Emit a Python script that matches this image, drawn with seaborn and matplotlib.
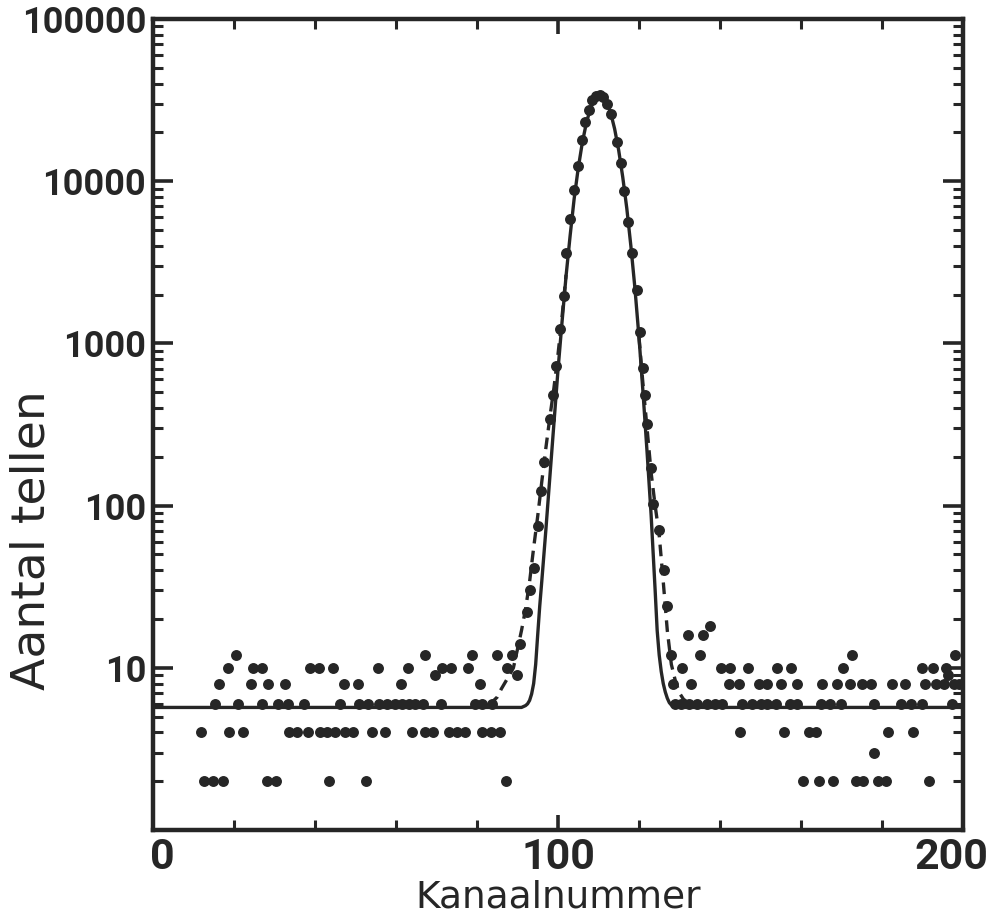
import matplotlib
matplotlib.use("Agg")
import matplotlib.pyplot as plt
import matplotlib.transforms as mtransforms
from matplotlib.ticker import FixedLocator, NullFormatter
import numpy as np
import pandas as pd
import seaborn as sns

# ---------------- data ----------------
# background channels grouped by their count level
lvl2_x = [12.7, 14.9, 17.2, 28.1, 30.4, 43.5, 52.6, 87.2, 160.4, 164.5, 167.8,
          173.5, 175.4, 179.0, 181.0, 191.7]
lvl3_x = [178.0]
lvl4_x = [11.9, 18.8, 22.3, 33.7, 35.5, 38.4, 41.3, 42.9, 45.0, 47.3, 49.4, 54.1,
          57.2, 64.0, 67.2, 69.1, 73.2, 75.1, 77.1, 81.3, 83.5, 85.8, 144.9, 155.7,
          162.0, 163.7, 181.5, 187.6]
lvl6_x = [15.4, 21.1, 27.0, 30.8, 33.3, 37.3, 46.1, 50.8, 53.2, 55.7, 57.8, 59.7,
          61.5, 63.1, 64.8, 66.8, 71.2, 79.6, 81.3, 83.7, 129.0, 130.3, 132.3, 134.4,
          136.7, 138.8, 140.4, 145.5, 147.8, 150.1, 151.7, 153.8, 157.2, 159.1, 164.9,
          167.2, 169.8, 178.1, 184.7, 187.1, 189.8, 197.4]
lvl8_x = [16.4, 24.2, 28.5, 32.5, 47.2, 50.6, 61.3, 80.7, 128.5, 132.8, 142.2, 144.7,
          149.6, 151.7, 155.0, 159.1, 165.1, 169.0, 172.1, 175.0, 177.3, 182.6, 185.7,
          190.7, 193.3, 195.4, 197.9, 199.1]
lvl9_x = [69.7, 89.9, 196.2]
lvl10_x = [18.5, 24.6, 27.0, 38.8, 41.0, 44.5, 55.5, 63.0, 71.4, 73.7, 77.7, 87.3,
           130.7, 140.3, 142.5, 146.9, 154.0, 157.5, 170.5, 190.0, 192.7, 195.8]
lvl12_x = [20.4, 67.2, 78.8, 85.0, 88.7, 127.8, 135.0, 172.5, 198.0]
lvl16_x = [132.1, 135.8]
lvl18_x = [137.5]

# peak channels and counts
peak_x = [90.7, 92.4, 93.2, 94.2, 95.0, 95.8, 96.5, 98.1, 98.9, 99.6, 100.4, 101.4,
          102.1, 102.9, 103.9, 105.0, 106.0, 106.8, 107.6, 108.5, 109.4, 110.3,
          111.2, 112.2, 113.2, 114.5, 115.5, 116.4, 117.3, 118.3, 119.4, 120.3,
          121.0, 121.6, 122.0, 122.9, 123.5, 124.9, 126.2, 127.0]
peak_y = [14, 22, 30, 41, 75, 123, 187, 340, 480, 725, 1230, 1950,
          3600, 5860, 8800, 12500, 18000, 23300, 27500, 31500, 33500, 34000,
          33000, 30000, 26000, 17400, 13000, 8700, 5600, 3600, 2140, 1180,
          710, 480, 320, 170, 102, 71, 40, 24]

# fitted curves
solid_x = [0, 91, 92, 92.5, 93, 93.5, 94, 94.5, 95, 95.5, 96, 97, 98, 99, 100, 101,
           102, 103, 104, 105, 106, 107, 108, 109, 110, 111, 112, 113, 114, 115, 116,
           117, 118, 119, 120, 121, 122, 123, 124, 124.5, 125, 125.5, 126, 126.5, 127,
           127.5, 128, 129, 130, 200]
solid_y = [5.7, 5.7, 5.85, 6.0, 6.3, 6.9, 8.0, 10.5, 16, 24, 34, 70, 150, 320, 680,
           1350, 2600, 4600, 7800, 12000, 17200, 22800, 28000, 31800, 33900, 33600,
           31000, 26500, 21000, 15500, 10600, 6800, 4000, 2200, 1100, 500, 215, 88, 30,
           17, 12, 9.5, 8.0, 7.1, 6.5, 6.1, 5.9, 5.75, 5.7, 5.7]
dash_left_x = [83, 85, 86, 88, 89, 90, 91, 92, 93, 94, 95, 96, 97, 98, 99, 100, 101, 102]
dash_left_y = [5.9, 6.6, 7.4, 9.0, 10, 13, 17, 23, 34, 55, 86, 140, 225, 350, 530, 850,
               1450, 2650]
dash_right_x = [120, 121, 122, 123, 124, 125, 126, 127, 128, 129, 130, 131, 133, 135]
dash_right_y = [1100, 560, 300, 160, 100, 66, 34, 17, 10.5, 8.3, 7.0, 6.4, 5.9, 5.7]

y_ticks = [10, 100, 1000, 10000, 100000]
y_labels = ["10", "100", "1000", "10000", "100000"]
x_ticks = [0, 100, 200]
x_labels = ["0", "100", "200"]
x_minor = [20, 40, 60, 80, 120, 140, 160, 180]

# ---------------- assemble ----------------
levels = {2: lvl2_x, 3: lvl3_x, 4: lvl4_x, 6: lvl6_x, 8: lvl8_x, 9: lvl9_x,
          10: lvl10_x, 12: lvl12_x, 16: lvl16_x, 18: lvl18_x}
rows = [(x, c) for c, xs in levels.items() for x in xs]
rows += list(zip(peak_x, peak_y))
df = pd.DataFrame(rows, columns=["Kanaal", "Tellen"])

sns.set_style("ticks")
plt.rcParams["font.family"] = ["Roboto", "DejaVu Sans"]
ink = "#262626"

fig = plt.figure(figsize=(9.92, 9.19), dpi=100)
ax = fig.add_axes([0.1542, 0.0968, 0.8165, 0.8825])

sns.lineplot(x=solid_x, y=solid_y, ax=ax, color=ink, lw=2.4, sort=False,
             estimator=None, zorder=2)
sns.lineplot(x=dash_left_x, y=dash_left_y, ax=ax, color=ink, lw=2.4, sort=False,
             estimator=None, linestyle=(0, (3.5, 2.2)), zorder=2)
sns.lineplot(x=dash_right_x, y=dash_right_y, ax=ax, color=ink, lw=2.4, sort=False,
             estimator=None, linestyle=(0, (3.5, 2.2)), zorder=2)
sns.scatterplot(data=df, x="Kanaal", y="Tellen", ax=ax, s=62, color=ink,
                edgecolor=ink, linewidth=0, zorder=3)

ax.set_yscale("log")
ax.set_xlim(0, 200)
ax.set_ylim(1, 100000)
ax.set_xlabel("")
ax.set_ylabel("")

ax.set_yticks(y_ticks, labels=y_labels)
ax.yaxis.set_minor_locator(FixedLocator(
    [m * 10 ** e for e in range(0, 5) for m in range(2, 10)]))
ax.yaxis.set_minor_formatter(NullFormatter())
ax.set_xticks(x_ticks, labels=x_labels)
ax.xaxis.set_minor_locator(FixedLocator(x_minor))

ax.tick_params(axis="y", which="major", direction="in", length=14.5, width=2.6,
               left=True, right=True, labelsize=26, pad=5, colors=ink)
ax.tick_params(axis="y", which="minor", direction="in", length=7, width=2.2,
               left=True, right=True)
ax.tick_params(axis="x", which="major", direction="in", length=11, width=2.6,
               bottom=True, top=True, labelsize=31, pad=5, colors=ink)
ax.tick_params(axis="x", which="minor", direction="in", length=7, width=2.2,
               bottom=True, top=True)
for lab in ax.get_yticklabels() + ax.get_xticklabels():
    lab.set_fontweight("bold")

xt = ax.get_xticklabels()
xt[0].set_transform(xt[0].get_transform() +
                    mtransforms.ScaledTranslation(0.09, 0, fig.dpi_scale_trans))
xt[-1].set_transform(xt[-1].get_transform() +
                     mtransforms.ScaledTranslation(-0.11, 0, fig.dpi_scale_trans))

for sp in ax.spines.values():
    sp.set_linewidth(3.2)
    sp.set_color(ink)

fig.text(0.032, 1 - 540 / 919, "Aantal tellen", rotation=90, ha="center",
         va="center", fontsize=34, color=ink, family=["DejaVu Sans"])
fig.text(0.563, 1 - 898 / 919, "Kanaalnummer", ha="center", va="center",
         fontsize=27, color=ink, family=["DejaVu Sans"])

fig.savefig("out.png", dpi=100, facecolor="white")
